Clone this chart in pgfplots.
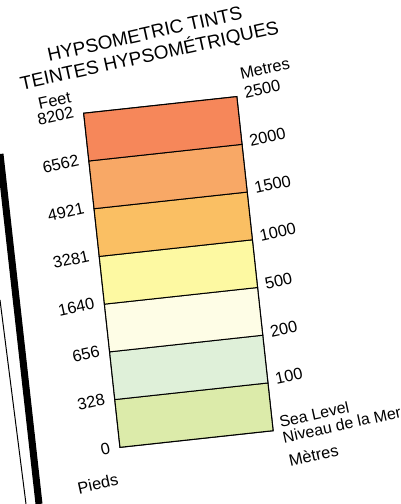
\documentclass[border=0pt]{standalone}
\usepackage{pgfplots}
\pgfplotsset{compat=1.18}
\usepackage{fontspec}
\setmainfont{Liberation Sans}
\definecolor{c1}{HTML}{DCEBAA}
\definecolor{c2}{HTML}{DFF0D9}
\definecolor{c3}{HTML}{FEFDE6}
\definecolor{c4}{HTML}{FDF9A2}
\definecolor{c5}{HTML}{FABF63}
\definecolor{c6}{HTML}{F8A866}
\definecolor{c7}{HTML}{F6875A}
\tikzset{lbl/.style={font=\fontsize{16.5}{18}\selectfont, inner sep=0pt, rotate=6.2}}
\begin{document}
\begin{tikzpicture}[x=1bp,y=1bp]
\useasboundingbox (0,0) rectangle (400,504);
\draw[line width=7bp] (0,350) -- (39,0);
\draw[line width=1bp] (0,204) -- (26,0);
\begin{scope}[shift={(120,56.7)}, rotate=6.2, transform shape]
\begin{axis}[
  at={(0,0)}, anchor=south west,
  width=154bp, height=336bp, scale only axis,
  xmin=0, xmax=1, ymin=0, ymax=7,
  xtick=\empty,
  ytick={0,...,7},
  yticklabels={0,328,656,1640,3281,4921,6562,8202},
  yticklabel style={font=\fontsize{16.5}{18}\selectfont, inner sep=0pt, xshift=-10bp, rotate=6.2},
  tick style={draw=none},
  axis line style={line width=1.2bp},
  clip=false,
]
\addplot[fill=c1, draw=black, line width=1bp] coordinates {(0,0) (1,0) (1,1) (0,1)} -- cycle;
\addplot[fill=c2, draw=black, line width=1bp] coordinates {(0,1) (1,1) (1,2) (0,2)} -- cycle;
\addplot[fill=c3, draw=black, line width=1bp] coordinates {(0,2) (1,2) (1,3) (0,3)} -- cycle;
\addplot[fill=c4, draw=black, line width=1bp] coordinates {(0,3) (1,3) (1,4) (0,4)} -- cycle;
\addplot[fill=c5, draw=black, line width=1bp] coordinates {(0,4) (1,4) (1,5) (0,5)} -- cycle;
\addplot[fill=c6, draw=black, line width=1bp] coordinates {(0,5) (1,5) (1,6) (0,6)} -- cycle;
\addplot[fill=c7, draw=black, line width=1bp] coordinates {(0,6) (1,6) (1,7) (0,7)} -- cycle;
\node[lbl, anchor=west, xshift=8bp, yshift=2bp] at (axis cs:1,1) {100};
\node[lbl, anchor=west, xshift=8bp, yshift=2bp] at (axis cs:1,2) {200};
\node[lbl, anchor=west, xshift=8bp, yshift=2bp] at (axis cs:1,3) {500};
\node[lbl, anchor=west, xshift=8bp, yshift=2bp] at (axis cs:1,4) {1000};
\node[lbl, anchor=west, xshift=8bp, yshift=2bp] at (axis cs:1,5) {1500};
\node[lbl, anchor=west, xshift=8bp, yshift=2bp] at (axis cs:1,6) {2000};
\node[lbl, anchor=west, xshift=8bp, yshift=2bp] at (axis cs:1,7) {2500};
\node[lbl, anchor=west, xshift=8bp, yshift=21bp] at (axis cs:1,7) {Metres};
\node[lbl, anchor=east, xshift=-9bp, yshift=19bp] at (axis cs:0,7) {Feet};
\node[lbl, anchor=center, xshift=-29.5bp, yshift=-31bp] at (axis cs:0,0) {Pieds};
\node[lbl, anchor=west, xshift=9bp, yshift=-32.6bp] at (axis cs:1,0) {Mètres};
\node[lbl, anchor=west, xshift=8bp, yshift=-0.8bp, align=left, font=\fontsize{16}{16}\selectfont] at (axis cs:1,0) {Sea Level\\Niveau de la Mer};
\node[lbl, anchor=center, yshift=60bp, align=center, font=\fontsize{19}{22}\selectfont] at (axis cs:0.5,7) {HYPSOMETRIC TINTS\\TEINTES HYPSOMÉTRIQUES};
\end{axis}
\end{scope}
\end{tikzpicture}
\end{document}
